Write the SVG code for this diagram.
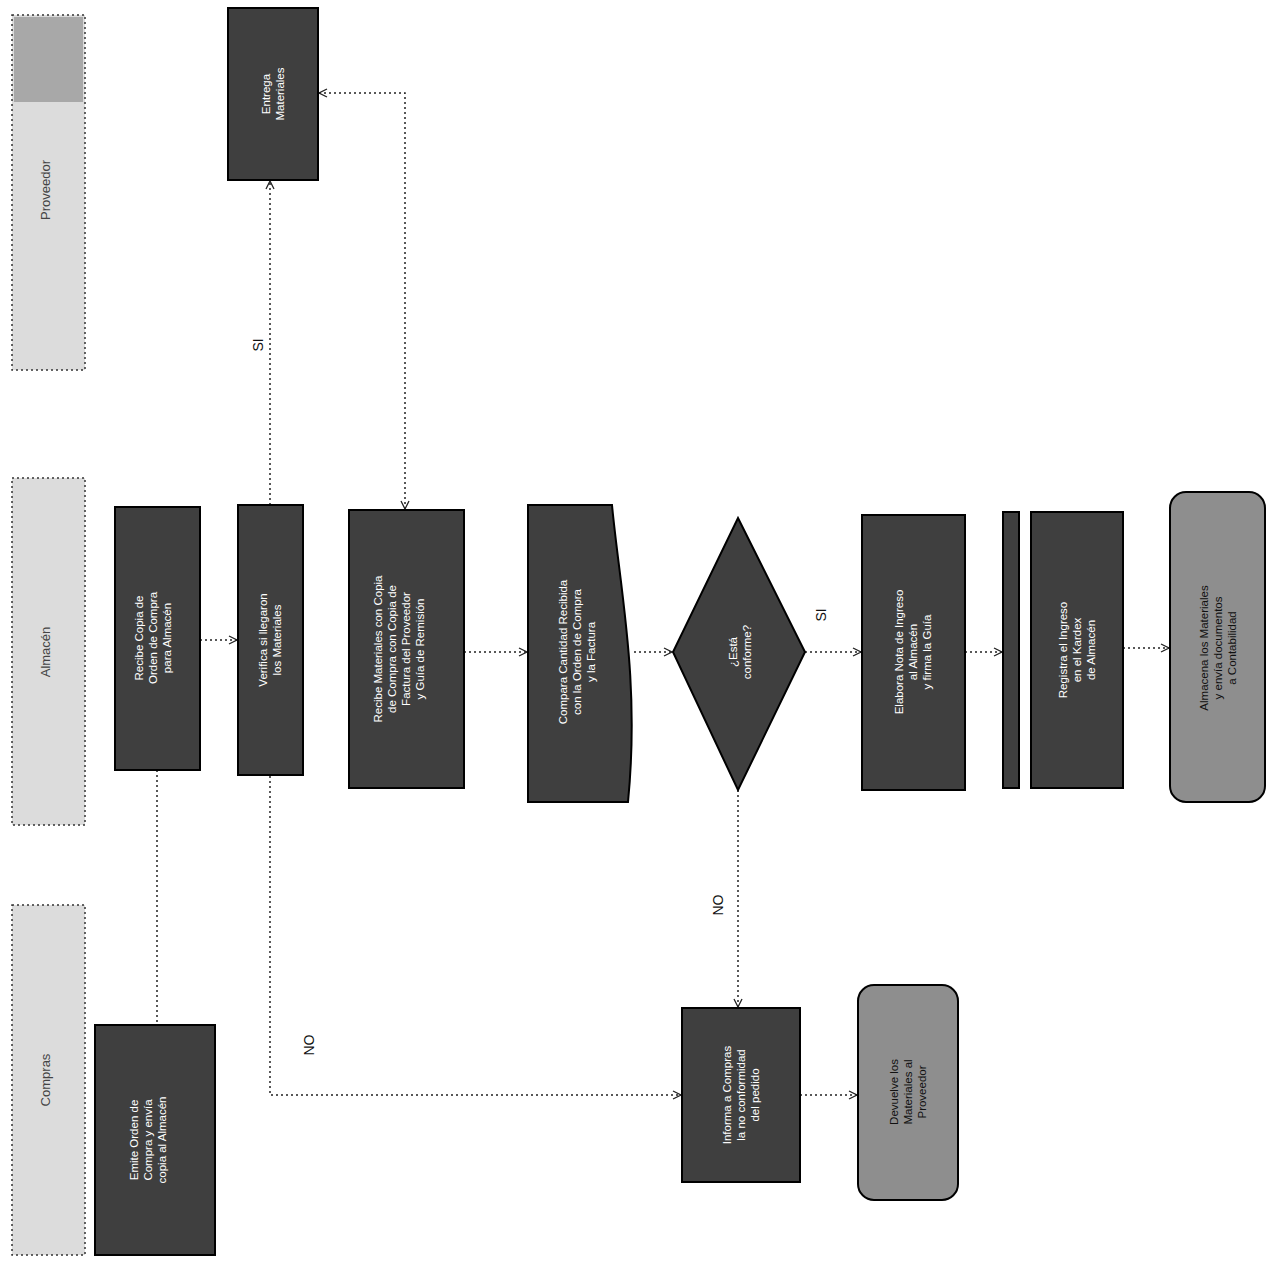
<svg xmlns="http://www.w3.org/2000/svg" width="1275" height="1269" viewBox="0 0 1275 1269">
<defs>
<style>
.lane{fill:#dcdcdc;stroke:#333;stroke-width:1.5;stroke-dasharray:2 3}
.lt{font-family:"Liberation Sans",Arial,sans-serif;font-size:13px;fill:#444;text-anchor:middle}
.dk{fill:#3f3f3f;stroke:#000;stroke-width:2}
.md{fill:#8e8e8e;stroke:#000;stroke-width:2}
.nt{font-family:"Liberation Sans",Arial,sans-serif;font-size:11.5px;fill:#fff;text-anchor:middle}
.tt{font-family:"Liberation Sans",Arial,sans-serif;font-size:11.5px;fill:#111;text-anchor:middle}
.cn{fill:none;stroke:#222;stroke-width:1.5;stroke-dasharray:2 3}
.lb{font-family:"Liberation Sans",Arial,sans-serif;font-size:14px;fill:#111;text-anchor:middle}
</style>
<marker id="ar" viewBox="0 0 10 10" refX="9" refY="5" markerWidth="10" markerHeight="10" orient="auto-start-reverse" markerUnits="userSpaceOnUse">
<path d="M1,1 L9,5 L1,9" fill="none" stroke="#222" stroke-width="1.3"/>
</marker>
</defs>
<rect width="1275" height="1269" fill="#fff"/>

<g id="lanes">
<g id="lane1"><rect class="lane" x="12" y="15" width="73" height="355"/><rect x="14" y="17" width="69" height="85" fill="#a8a8a8"/><text class="lt" transform="translate(50,190) rotate(-90)">Proveedor</text></g>
<g id="lane2"><rect class="lane" x="12" y="478" width="73" height="347"/><text class="lt" transform="translate(50,652) rotate(-90)">Almacén</text></g>
<g id="lane3"><rect class="lane" x="12" y="905" width="73" height="350"/><text class="lt" transform="translate(50,1080) rotate(-90)">Compras</text></g>
</g>

<g id="connectors">
<path class="cn" d="M157,770 V1025"/>
<path class="cn" d="M200,640 H237" marker-end="url(#ar)"/>
<path class="cn" d="M270,505 V181" marker-end="url(#ar)"/>
<path class="cn" d="M319,93 H405 V509" marker-start="url(#ar)" marker-end="url(#ar)"/>
<path class="cn" d="M270,776 V1095 H681" marker-end="url(#ar)"/>
<path class="cn" d="M464,652 H527" marker-end="url(#ar)"/>
<path class="cn" d="M634,652 H672" marker-end="url(#ar)"/>
<path class="cn" d="M805,652 H861" marker-end="url(#ar)"/>
<path class="cn" d="M965,652 H1002" marker-end="url(#ar)"/>
<path class="cn" d="M1123,648 H1169" marker-end="url(#ar)"/>
<path class="cn" d="M738,790 V1007" marker-end="url(#ar)"/>
<path class="cn" d="M800,1095 H857" marker-end="url(#ar)"/>
<text class="lb" transform="translate(263,345) rotate(-90)">SI</text>
<text class="lb" transform="translate(826,615) rotate(-90)">SI</text>
<text class="lb" transform="translate(723,905) rotate(-90)">NO</text>
<text class="lb" transform="translate(314,1045) rotate(-90)">NO</text>
</g>

<g id="nA"><rect class="dk" x="228" y="8" width="90" height="172" fill="#303030"/>
<text class="nt" transform="translate(273,94) rotate(-90)"><tspan x="0" dy="-3">Entrega</tspan><tspan x="0" dy="14">Materiales</tspan></text></g>

<g id="n1"><rect class="dk" x="115" y="507" width="85" height="263"/>
<text class="nt" transform="translate(157,638) rotate(-90)"><tspan x="0" dy="-14">Recibe Copia de</tspan><tspan x="0" dy="14">Orden de Compra</tspan><tspan x="0" dy="14">para Almacén</tspan></text></g>

<g id="n2"><rect class="dk" x="238" y="505" width="65" height="270"/>
<text class="nt" transform="translate(270,640) rotate(-90)"><tspan x="0" dy="-3">Verifica si llegaron</tspan><tspan x="0" dy="14">los Materiales</tspan></text></g>

<g id="n3"><rect class="dk" x="349" y="510" width="115" height="278"/>
<text class="nt" transform="translate(406,649) rotate(-90)"><tspan x="0" dy="-24">Recibe Materiales con Copia</tspan><tspan x="0" dy="14">de Compra con Copia de</tspan><tspan x="0" dy="14">Factura del Proveedor</tspan><tspan x="0" dy="14">y Guía de Remisión</tspan></text></g>

<g id="n4"><path class="dk" d="M528,505 H612 C620,590 640,680 628,802 H528 Z"/>
<text class="nt" transform="translate(577,652) rotate(-90)"><tspan x="0" dy="-10">Compara Cantidad Recibida</tspan><tspan x="0" dy="14">con la Orden de Compra</tspan><tspan x="0" dy="14">y la Factura</tspan></text></g>

<g id="dec"><path class="dk" d="M738,518 L805,652 L738,790 L673,652 Z"/>
<text class="nt" transform="translate(740,652) rotate(-90)"><tspan x="0" dy="-3">¿Está</tspan><tspan x="0" dy="14">conforme?</tspan></text></g>

<g id="n5"><rect class="dk" x="862" y="515" width="103" height="275" fill="#4a4a4a"/>
<text class="nt" transform="translate(913,652) rotate(-90)"><tspan x="0" dy="-10">Elabora Nota de Ingreso</tspan><tspan x="0" dy="14">al Almacén</tspan><tspan x="0" dy="14">y firma la Guía</tspan></text></g>

<g id="n6"><rect class="dk" x="1003" y="512" width="16" height="276" fill="#4a4a4a"/><rect class="dk" x="1031" y="512" width="92" height="276" fill="#555"/>
<text class="nt" transform="translate(1077,650) rotate(-90)"><tspan x="0" dy="-10">Registra el Ingreso</tspan><tspan x="0" dy="14">en el Kardex</tspan><tspan x="0" dy="14">de Almacén</tspan></text></g>

<g id="t1"><rect class="md" x="1170" y="492" width="95" height="310" rx="16"/>
<text class="tt" transform="translate(1218,648) rotate(-90)"><tspan x="0" dy="-10">Almacena los Materiales</tspan><tspan x="0" dy="14">y envía documentos</tspan><tspan x="0" dy="14">a Contabilidad</tspan></text></g>

<g id="n7"><rect class="dk" x="95" y="1025" width="120" height="230" fill="#474747"/>
<text class="nt" transform="translate(155,1140) rotate(-90)"><tspan x="0" dy="-17">Emite Orden de</tspan><tspan x="0" dy="14">Compra y envía</tspan><tspan x="0" dy="14">copia al Almacén</tspan></text></g>

<g id="n8"><rect class="dk" x="682" y="1008" width="118" height="174"/>
<text class="nt" transform="translate(741,1095) rotate(-90)"><tspan x="0" dy="-10">Informa a Compras</tspan><tspan x="0" dy="14">la no conformidad</tspan><tspan x="0" dy="14">del pedido</tspan></text></g>

<g id="t2"><rect class="md" x="858" y="985" width="100" height="215" rx="16" fill="#8a8a8a"/>
<text class="tt" transform="translate(908,1092) rotate(-90)"><tspan x="0" dy="-10">Devuelve los</tspan><tspan x="0" dy="14">Materiales al</tspan><tspan x="0" dy="14">Proveedor</tspan></text></g>
</svg>
